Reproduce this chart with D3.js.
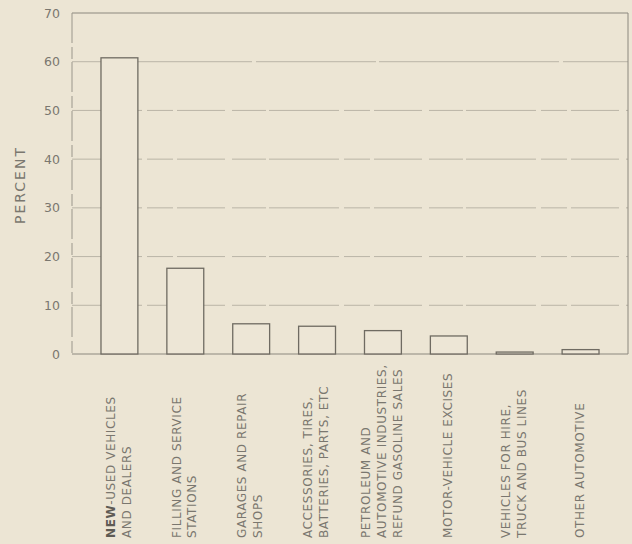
<!DOCTYPE html>
<html>
<head>
<meta charset="utf-8">
<script src="https://cdn.jsdelivr.net/npm/d3@7"></script>
<style>
  body { margin: 0; background: #ece5d4; }
  svg { display: block; }
  text { font-family: "DejaVu Sans", sans-serif; fill: #7a776f; }
</style>
</head>
<body>
<div id="chart"></div>
<script>
// label lines for each bar (drawn rotated)
var categories = [
    ["NEW-USED VEHICLES", "AND DEALERS"],
    ["FILLING AND SERVICE", "STATIONS"],
    ["GARAGES AND REPAIR", "SHOPS"],
    ["ACCESSORIES, TIRES,", "BATTERIES, PARTS, ETC"],
    ["PETROLEUM AND", "AUTOMOTIVE INDUSTRIES,", "REFUND GASOLINE SALES"],
    ["MOTOR-VEHICLE EXCISES"],
    ["VEHICLES FOR HIRE,", "TRUCK AND BUS LINES"],
    ["OTHER AUTOMOTIVE"]
];
var values = [60.8, 17.6, 6.2, 5.7, 4.8, 3.7, 0.4, 0.9];
var yTicks = [0, 10, 20, 30, 40, 50, 60, 70];

var svgWidth = 632;
var svgHeight = 544;

var plot = {
    left: 72,
    right: 628,
    top: 13,
    bottom: 354
};

var svg = d3.select("#chart").append("svg")
    .attr("width", svgWidth)
    .attr("height", svgHeight);

var yScale = d3.scaleLinear()
    .domain([0, 70])
    .range([plot.bottom, plot.top]);

var xScale = d3.scaleBand()
    .domain(d3.range(categories.length))
    .range([plot.left, plot.right])
    .paddingInner(0.44)
    .paddingOuter(0.44);

// grid lines (faint, broken like the print)
svg.append("g")
    .selectAll("line")
    .data(yTicks.filter(t => t > 0 && t < 70))
    .enter()
    .append("line")
    .attr("x1", plot.left)
    .attr("x2", plot.right)
    .attr("y1", d => yScale(d))
    .attr("y2", d => yScale(d))
    .attr("stroke", "#aaa598")
    .attr("stroke-width", 1)
    .attr("stroke-dasharray", d => d === 60 ? "180,4,120,3" : "70,5,26,4,48,7,34,3")
    .attr("opacity", 0.75);

// frame: top, right, baseline, left axis
svg.append("line")
    .attr("x1", plot.left).attr("x2", plot.right)
    .attr("y1", yScale(70)).attr("y2", yScale(70))
    .attr("stroke", "#8c887e").attr("stroke-width", 1);

svg.append("line")
    .attr("x1", plot.right).attr("x2", plot.right)
    .attr("y1", yScale(70)).attr("y2", yScale(0))
    .attr("stroke", "#8c887e").attr("stroke-width", 1);

svg.append("line")
    .attr("x1", plot.left).attr("x2", plot.right)
    .attr("y1", yScale(0)).attr("y2", yScale(0))
    .attr("stroke", "#8c887e").attr("stroke-width", 1);

svg.append("line")
    .attr("x1", plot.left).attr("x2", plot.left)
    .attr("y1", yScale(70)).attr("y2", yScale(0))
    .attr("stroke", "#9a968b").attr("stroke-width", 1)
    .attr("stroke-dasharray", "30,4,12,3");

// y tick labels
var yAxis = d3.axisLeft(yScale)
    .tickValues(yTicks)
    .tickSize(0)
    .tickPadding(12);

var yAxisGroup = svg.append("g")
    .attr("transform", `translate(${plot.left}, 0)`)
    .call(yAxis);

yAxisGroup.select(".domain").remove();
yAxisGroup.selectAll("text")
    .attr("font-size", "12.5px")
    .attr("fill", "#8a877e")
    .style("font-family", "\"DejaVu Sans\", sans-serif");

// axis title
svg.append("text")
    .attr("transform", "translate(25, 185) rotate(-90)")
    .attr("text-anchor", "middle")
    .attr("font-size", "14px")
    .attr("letter-spacing", "2px")
    .attr("fill", "#7f7c73")
    .text("PERCENT");

// bars
svg.append("g")
    .selectAll("rect")
    .data(values)
    .enter()
    .append("rect")
    .attr("x", (d, i) => xScale(i))
    .attr("y", d => yScale(d))
    .attr("width", xScale.bandwidth())
    .attr("height", d => yScale(0) - yScale(d))
    .attr("fill", "#ede6d6")
    .attr("stroke", "#6f6b62")
    .attr("stroke-width", 1.3);

// rotated category labels, reading upward from the bottom
var lineGap = 16;
var labelGroups = svg.append("g")
    .selectAll("g")
    .data(categories)
    .enter()
    .append("g")
    .attr("transform", (d, i) => {
        var cx = xScale(i) + xScale.bandwidth() / 2 - 1;
        return `translate(${cx}, 538) rotate(-90)`;
    });

labelGroups.each(function(lines) {
    var g = d3.select(this);
    var offset = -(lines.length - 1) * lineGap / 2;
    lines.forEach((line, k) => {
        var t = g.append("text")
            .attr("x", 0)
            .attr("y", offset + k * lineGap)
            .attr("dy", "0.35em")
            .attr("text-anchor", "start")
            .attr("font-size", "12px")
            .attr("letter-spacing", "0.6px")
            .attr("fill", "#7a776f");
        // the print shows "NEW" darker/heavier
        if (line.indexOf("NEW-") === 0) {
            t.append("tspan").attr("font-weight", "bold").attr("fill", "#5e5b54").text("NEW");
            t.append("tspan").text(line.slice(3));
        } else {
            t.text(line);
        }
    });
});
</script>
</body>
</html>
